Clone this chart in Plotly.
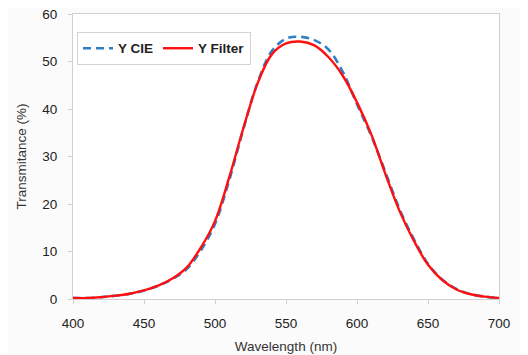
import plotly.graph_objects as go

wavelength = [400, 410, 420, 430, 440, 450, 460, 470, 480, 490, 500, 510, 520, 530, 540, 550,
              560, 570, 580, 590, 600, 610, 620, 630, 640, 650, 660, 670, 680, 690, 700]

y_cie = [0.2, 0.2, 0.4, 0.7, 1.1, 1.8, 2.8, 4.2, 6.3, 10.2, 15.8, 25.0, 35.8, 45.6, 52.2, 54.8,
         55.2, 54.5, 52.5, 47.8, 41.0, 34.4, 26.7, 18.9, 12.6, 7.4, 4.1, 2.1, 1.0, 0.5, 0.2]

y_filter = [0.2, 0.2, 0.4, 0.7, 1.1, 1.8, 2.8, 4.3, 6.6, 10.8, 16.4, 25.6, 36.0, 45.4, 51.5, 53.8,
            54.2, 53.4, 50.9, 47.0, 41.4, 34.7, 26.3, 18.5, 12.3, 7.2, 4.0, 2.0, 1.0, 0.5, 0.2]

x_ticks = [400, 450, 500, 550, 600, 650, 700]
y_ticks = [0, 10, 20, 30, 40, 50, 60]

FONT = "Liberation Sans, Arial, sans-serif"

fig = go.Figure()
fig.add_trace(go.Scatter(
    x=wavelength, y=y_cie, name="Y CIE", mode="lines", line_shape="spline",
    line=dict(color="#2f7fc3", width=2.6, dash="8px,5px"),
))
fig.add_trace(go.Scatter(
    x=wavelength, y=y_filter, name="Y Filter", mode="lines", line_shape="spline",
    line=dict(color="#ff1010", width=2.4),
))

axis_common = dict(
    showgrid=False, zeroline=False, showline=True, linecolor="#d0d0d0", linewidth=1,
    mirror=True, ticks="outside", ticklen=4, tickcolor="#d0d0d0",
    ticklabelstandoff=8, ticklabeloverflow="allow", automargin=False,
    tickfont=dict(family=FONT, size=13.5, color="#222222"),
)

fig.update_layout(
    width=520, height=347,
    margin=dict(l=65, r=29, t=6, b=56),
    paper_bgcolor="#fbfbfb", plot_bgcolor="#ffffff",
    showlegend=True,
    legend=dict(
        x=0.0094, y=0.937, xanchor="left", yanchor="top", orientation="h",
        bgcolor="#ffffff", bordercolor="#d4d4d4", borderwidth=1,
        font=dict(family=FONT, size=13.5, color="#222222", weight="bold"),
        itemwidth=30,
    ),
    xaxis=dict(
        range=[400, 700], tickvals=x_ticks,
        title=dict(text="Wavelength (nm)", standoff=11,
                   font=dict(family=FONT, size=13.5, color="#333333")),
        **axis_common,
    ),
    yaxis=dict(
        range=[0, 60], tickvals=y_ticks,
        title=dict(text="Transmitance (%)", standoff=12,
                   font=dict(family=FONT, size=13.5, color="#333333")),
        **axis_common,
    ),
)

fig.write_html("out.html")
